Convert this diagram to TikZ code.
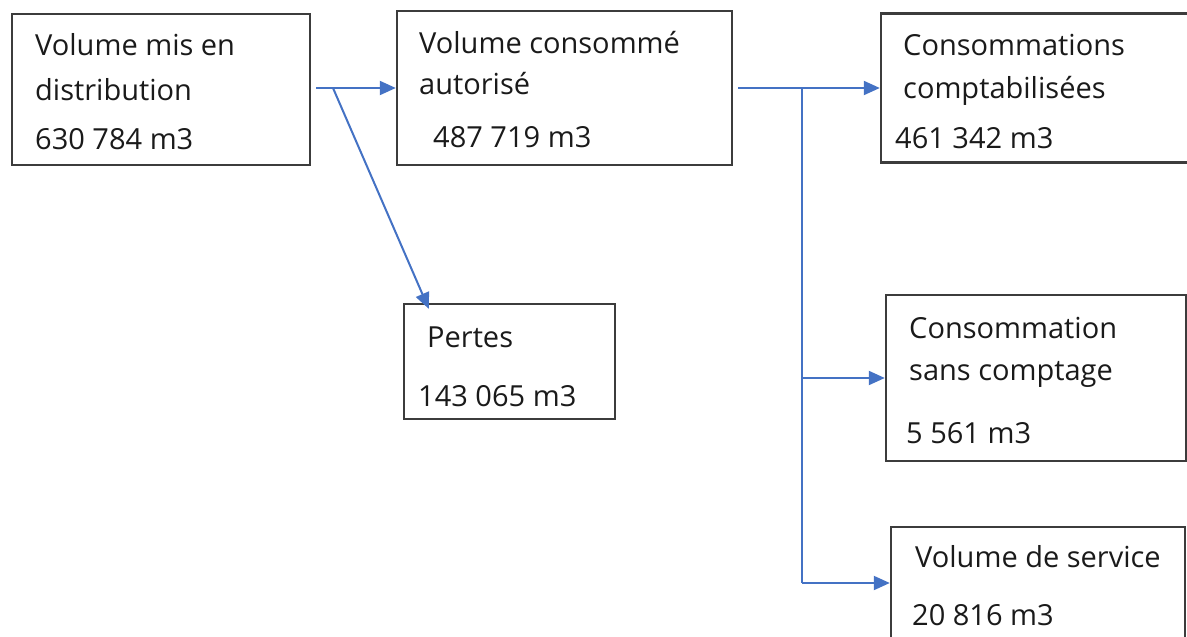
\documentclass[tikz,border=0pt]{standalone}
\usepackage{fontspec}
\setmainfont{Open Sans}
\usetikzlibrary{arrows.meta}
\definecolor{boxline}{HTML}{3C3C3C}
\definecolor{arrowblue}{HTML}{4472C4}
\definecolor{txt}{HTML}{1A1A1A}
\tikzset{
  box/.style={draw=boxline, line width=2.4pt, fill=none, inner sep=0pt},
  lbl/.style={anchor=base west, inner sep=0pt, text=txt, font=\fontsize{29}{31}\selectfont},
  conn/.style={draw=arrowblue, line width=2pt},
  arr/.style={conn, -{Triangle[length=16pt,width=14pt]}}
}
\begin{document}
\begin{tikzpicture}[x=1pt,y=-1pt]
\useasboundingbox (0,0) rectangle (1187,637);
\clip (0,0) rectangle (1187,637);
% boxes
\node[box, minimum width=298pt, minimum height=151pt] (b1) at (161,89.5) {};
\node[box, minimum width=335pt, minimum height=154pt] (b2) at (564.5,88) {};
\node[box, minimum width=314pt, minimum height=149pt] (b3) at (1038,88) {};
\node[box, minimum width=211pt, minimum height=115pt] (b6) at (509.5,361.5) {};
\node[box, minimum width=300pt, minimum height=166pt] (b4) at (1036,378) {};
\node[box, minimum width=294pt, minimum height=112pt] (b5) at (1038,583) {};
% texts
\node[lbl] (t11) at (35,55) {Volume mis en};
\node[lbl] (t12) at (35,100) {distribution};
\node[lbl] (t13) at (35,149) {630 784 m3};
\node[lbl] (t21) at (419,53) {Volume consommé};
\node[lbl] (t22) at (419,94) {autorisé};
\node[lbl] (t23) at (433,147) {487 719 m3};
\node[lbl] (t31) at (903,55) {Consommations};
\node[lbl] (t32) at (903,98) {comptabilisées};
\node[lbl] (t33) at (895,148) {461 342 m3};
\node[lbl] (t61) at (427,347) {Pertes};
\node[lbl] (t62) at (418,406) {143 065 m3};
\node[lbl] (t41) at (909,338) {Consommation};
\node[lbl] (t42) at (909,380) {sans comptage};
\node[lbl] (t43) at (906,443) {5 561 m3};
\node[lbl] (t51) at (915,567) {Volume de service};
\node[lbl] (t52) at (912,625) {20 816 m3};
% connectors
\coordinate (s1) at ([xshift=5pt]b1.east |- b2.west);
\coordinate (j1) at (333,88);
\coordinate (s2) at ([xshift=5pt]b2.east |- b3.west);
\coordinate (j2) at (802,88);
\coordinate (j3) at (j2 |- b4.west);
\coordinate (j4) at (j2 |- b5.west);
\draw[arr] (s1) -- (b2.west);
\draw[arr] (j1) -- ([xshift=26pt,yshift=-6pt]b6.north west);
\draw[arr] (s2) -- (b3.west);
\draw[conn] (j2) -- (j4);
\draw[arr] (j3) -- (b4.west);
\draw[arr] (j4) -- (b5.west);
\end{tikzpicture}
\end{document}
